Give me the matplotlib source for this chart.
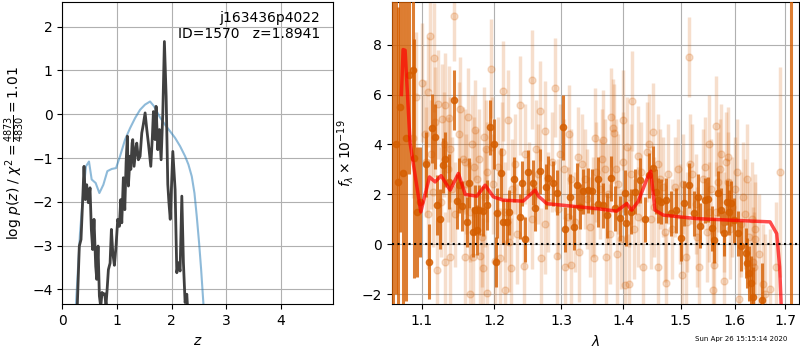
import matplotlib
matplotlib.use("Agg")
import matplotlib.pyplot as plt
import numpy as np

# p(z) curves
z_grid = [0.26, 0.275, 0.311, 0.342, 0.373, 0.397, 0.421, 0.446, 0.476, 0.507,
          0.531, 0.556, 0.58, 0.611, 0.63, 0.654, 0.678, 0.703, 0.727, 0.75,
          0.775, 0.80, 0.82, 0.843, 0.874, 0.898, 0.923, 0.953, 0.983, 1.014,
          1.044, 1.069, 1.088, 1.117, 1.143, 1.167, 1.19, 1.209, 1.24, 1.253,
          1.277, 1.289, 1.313, 1.35, 1.362, 1.392, 1.423, 1.454, 1.48, 1.515,
          1.546, 1.575, 1.619, 1.648, 1.667, 1.698, 1.716, 1.747, 1.777, 1.808,
          1.839, 1.868, 1.90, 1.915, 1.93, 1.95, 1.975, 2.022, 2.064, 2.095,
          2.125, 2.155, 2.187, 2.216, 2.247, 2.278, 2.30]
logpz = [-4.6, -4.34, -3.01, -2.86, -1.95, -1.19, -1.95, -1.61, -2.02, -1.68,
         -2.63, -3.09, -2.40, -3.47, -3.77, -3.01, -4.15, -4.4, -4.07, -4.12,
         -4.1, -4.35, -4.0, -3.55, -3.40, -2.63, -3.16, -3.45, -3.01, -2.40,
         -2.56, -1.95, -2.48, -1.45, -2.18, -1.11, -0.5, -1.64, -0.96, -1.26,
         -0.66, -0.58, -1.19, -0.73, -0.66, -1.04, -0.96, -0.43, -0.25, 0.03,
         -0.35, -0.66, -1.19, -0.51, 0.06, -0.58, 0.18, -0.81, -0.35, -1.04,
         0.03, 1.66, 0.41, -0.6, -1.6, -2.0, -2.4, -0.85, -1.72, -3.62,
         -3.39, -3.58, -1.87, -3.39, -4.30, -4.11, -4.6]

z_prior = [0.24, 0.25, 0.324, 0.372, 0.433, 0.488, 0.537, 0.61, 0.678, 0.751,
           0.824, 0.904, 0.983, 1.056, 1.148, 1.239, 1.331, 1.422, 1.514, 1.606,
           1.679, 1.777, 1.88, 1.972, 2.063, 2.155, 2.247, 2.308, 2.369, 2.418,
           2.46, 2.503, 2.54, 2.582, 2.6]
logp_prior = [-5.0, -4.33, -2.71, -1.95, -1.19, -1.08, -1.49, -1.57, -1.80, -1.61,
              -1.30, -1.25, -1.23, -0.96, -0.58, -0.32, -0.09, 0.10, 0.22, 0.29,
              0.18, -0.05, -0.24, -0.39, -0.54, -0.73, -0.96, -1.15, -1.42, -1.80,
              -2.33, -2.94, -3.54, -4.33, -5.0]

# spectrum: (wavelength um, flux, err)
binned = [
    (1.0625, 12.0, 40), (1.066, 4.0, 6.0), (1.069, 2.5, 7.0), (1.072, 5.5, 5.0),
    (1.0751, 2.84, 7.5), (1.0788, 4.24, 6.5), (1.083, 6.8, 4.0), (1.0878, 6.97, 3.5),
    (1.090, 3.44, 4.8), (1.094, 1.3, 2.6), (1.097, 1.7, 2.2), (1.1054, 3.2, 1.3),
    (1.109, -0.7, 1.5), (1.1135, 4.64, 1.4), (1.117, 4.3, 1.3), (1.120, 1.57, 1.2),
    (1.1238, 1.0, 1.2), (1.128, 3.17, 1.1), (1.1315, 3.4, 1.1), (1.136, 2.5, 1.1),
    (1.143, 5.77, 1.2), (1.147, 1.73, 1.1), (1.1495, 2.37, 1.1), (1.154, 1.53, 1.0),
    (1.1616, 0.9, 1.0), (1.1643, 2.44, 1.0), (1.169, 0.48, 1.0), (1.172, 1.37, 1.0),
    (1.175, 0.57, 1.0), (1.178, 1.37, 1.0), (1.184, 1.34, 1.0), (1.190, 1.57, 1.0),
    (1.1937, 4.68, 1.1), (1.1995, 4.0, 1.0), (1.202, -0.7, 1.0), (1.2035, 1.24, 1.0),
    (1.209, 2.84, 1.0), (1.2127, 0.9, 0.9), (1.218, 0.9, 0.9), (1.2216, 1.28, 0.9),
    (1.229, 2.61, 0.9), (1.238, 1.1, 0.9), (1.2405, 2.44, 0.9), (1.2446, 0.21, 0.9),
    (1.2497, 2.88, 0.9), (1.257, 2.46, 0.9), (1.260, 1.44, 0.9), (1.268, 2.93, 0.9),
    (1.276, 2.3, 0.9), (1.2795, 2.64, 0.9), (1.287, 2.44, 0.9), (1.293, 2.06, 0.9),
    (1.302, 4.68, 1.3), (1.3065, 0.6, 0.9), (1.3135, 1.9, 0.9), (1.320, 0.68, 0.9),
    (1.3255, 2.37, 0.9), (1.3298, 1.5, 0.9), (1.335, 2.13, 0.9), (1.3417, 2.17, 0.9),
    (1.348, 2.13, 0.9), (1.3578, 2.61, 0.9), (1.3588, 1.61, 0.9), (1.366, 1.57, 0.9),
    (1.373, 1.17, 0.9), (1.3805, 2.64, 0.9), (1.3867, 1.44, 0.9), (1.3945, 1.04, 0.9),
    (1.4025, 2.06, 0.9), (1.4057, 0.84, 0.9), (1.4128, 1.3, 0.9), (1.420, 2.1, 0.9),
    (1.428, 2.57, 0.9), (1.437, 1.0, 0.9), (1.4445, 2.77, 0.9), (1.4505, 3.04, 0.9),
    (1.4564, 2.1, 0.9), (1.460, 1.77, 0.9), (1.4651, 1.7, 0.9), (1.474, 1.77, 0.9),
    (1.483, 1.24, 0.9), (1.491, 1.37, 0.9), (1.500, 0.24, 0.9), (1.506, 1.64, 0.9),
    (1.5154, 2.37, 0.9), (1.5247, 1.24, 0.9), (1.532, 1.9, 0.9), (1.536, 0.74, 0.9),
    (1.5435, 1.77, 0.9), (1.5497, 1.81, 0.9), (1.5577, 0.64, 0.9), (1.562, 0.17, 0.9),
    (1.5694, 2.04, 0.9), (1.5744, 1.37, 0.9), (1.5794, 0.44, 0.9), (1.585, 1.68, 0.9),
    (1.590, 1.28, 0.9), (1.594, 1.64, 0.9), (1.599, 0.97, 0.9), (1.607, 0.44, 0.9),
    (1.6118, -0.06, 1.0), (1.6216, -0.36, 1.0), (1.6235, -0.76, 1.0), (1.628, -1.16, 1.1),
    (1.631, -1.56, 1.1), (1.635, -2.1, 1.2), (1.6527, -2.23, 1.5), (1.711, 12.0, 40),
]

beams = [
    (1.0887, 4.24, 2.4), (1.092, 5.9, 2.6), (1.1008, 6.48, 2.4), (1.1076, 6.1, 2.2),
    (1.1112, 8.34, 2.2), (1.1166, 7.48, 2.2), (1.127, 5.01, 2.2), (1.1315, 5.57, 2.1),
    (1.136, 5.04, 2.1), (1.1427, 9.13, 1.8), (1.1518, 5.41, 2.1), (1.163, 5.08, 2.0),
    (1.172, 4.57, 2.0), (1.1855, 4.3, 2.0), (1.1954, 7.04, 2.0), (1.1965, 3.9, 2.0),
    (1.2125, 6.13, 2.0), (1.2193, 4.97, 2.0), (1.2372, 5.56, 2.0), (1.2556, 6.6, 2.0),
    (1.268, 5.33, 2.0), (1.2745, 4.53, 2.0), (1.2906, 6.28, 2.0), (1.312, 4.4, 2.0),
    (1.353, 4.26, 2.0), (1.367, 4.17, 2.0), (1.380, 5.08, 2.0), (1.3835, 4.64, 2.0),
    (1.385, 4.44, 2.0), (1.399, 4.97, 2.0), (1.4065, 3.9, 2.0), (1.4155, 5.73, 2.0),
    (1.4244, 3.53, 2.0), (1.4445, 4.01, 2.0), (1.4505, 4.48, 2.0), (1.5154, 7.5, 1.6),
    (1.5525, 4.0, 2.0), (1.5657, 4.73, 2.0), (1.5744, 3.61, 2.0), (1.5867, 3.5, 2.0),
    (1.120, -1.03, 2.0), (1.1315, -0.7, 2.0), (1.1382, -0.52, 2.0), (1.1585, -0.52, 2.0),
    (1.1697, -0.49, 2.0), (1.1788, -0.47, 2.0), (1.184, -0.96, 2.0), (1.190, -1.96, 2.0),
    (1.166, -2.0, 2.0), (1.2013, -0.67, 2.0), (1.208, -0.56, 2.0), (1.2153, -1.83, 2.0),
    (1.2247, -0.96, 2.0), (1.243, -0.85, 2.0), (1.2685, -0.53, 2.0), (1.294, -0.47, 2.0),
    (1.3065, -0.89, 2.0), (1.3145, -0.83, 2.0), (1.328, -0.3, 2.0), (1.3515, -0.56, 2.0),
    (1.3715, -0.52, 2.0), (1.3895, -0.39, 2.0), (1.4025, -1.63, 2.0), (1.4095, -1.6, 2.0),
    (1.434, -0.9, 2.0), (1.459, -0.9, 2.0), (1.4745, -1.56, 2.0), (1.503, -1.23, 2.0),
    (1.509, -0.5, 2.0), (1.5338, -0.9, 2.0), (1.559, -1.83, 2.0), (1.562, -0.83, 2.0),
    (1.5806, -1.47, 2.0), (1.6085, -2.19, 2.1), (1.635, -0.7, 2.2), (1.637, -0.9, 2.2),
    (1.6395, 0.6, 2.2), (1.6555, -1.6, 2.4), (1.670, -1.8, 2.4), (1.682, -0.9, 2.6),
    (1.689, 2.9, 4.2),
    (1.104, 4.4, 2.2), (1.112, 3.6, 2.2), (1.122, 5.6, 2.2), (1.130, 4.0, 2.1),
    (1.138, 3.8, 2.1), (1.150, 4.4, 2.1), (1.158, 3.3, 2.1), (1.168, 4.0, 2.0),
    (1.178, 3.4, 2.0), (1.188, 3.8, 2.0),
    (1.105, 3.3, 2.2), (1.115, 2.1, 2.2), (1.125, 1.7, 2.2), (1.135, 3.0, 2.1),
    (1.145, 1.2, 2.1), (1.155, 3.4, 2.1), (1.165, 1.3, 2.0), (1.175, 2.6, 2.0),
    (1.182, 0.3, 2.0), (1.19, 2.9, 2.0), (1.205, 3.1, 2.0), (1.215, 1.3, 2.0),
    (1.225, 2.2, 2.0), (1.233, 0.4, 2.0), (1.245, 3.6, 2.0), (1.255, 1.0, 2.0),
    (1.265, 2.8, 2.0), (1.275, 0.8, 2.0), (1.285, 3.3, 2.0), (1.295, 1.4, 2.0),
    (1.305, 3.0, 2.0), (1.315, 2.6, 2.0), (1.322, 0.9, 2.0), (1.332, 3.2, 2.0),
    (1.34, 1.8, 2.0), (1.345, 0.7, 2.0), (1.355, 2.9, 2.0), (1.362, 2.2, 2.0),
    (1.37, 3.0, 2.0), (1.378, 0.4, 2.0), (1.392, 2.4, 2.0), (1.40, 3.3, 2.0),
    (1.41, 1.9, 2.0), (1.418, 0.6, 2.0), (1.43, 2.9, 2.0), (1.44, 3.7, 2.0),
    (1.452, 1.5, 2.0), (1.46, 3.2, 2.0), (1.468, 2.3, 2.0), (1.478, 2.8, 2.0),
    (1.485, 0.6, 2.0), (1.495, 3.0, 2.0), (1.505, 2.4, 2.0), (1.512, 0.9, 2.0),
    (1.52, 2.8, 2.0), (1.528, 1.6, 2.0), (1.54, 2.6, 2.0), (1.548, 0.5, 2.0),
    (1.555, 2.2, 2.0), (1.565, 1.3, 2.0), (1.572, 3.0, 2.0), (1.58, 0.9, 2.0),
    (1.588, 2.5, 2.0), (1.596, 1.5, 2.0), (1.604, 2.9, 2.1), (1.612, 0.8, 2.1),
    (1.62, 1.2, 2.2), (1.628, 0.3, 2.2), (1.64, 0.2, 2.3), (1.648, -0.4, 2.4),
    (1.66, -2.0, 2.4),
    (1.108, 1.2, 2.2), (1.118, 4.9, 2.2), (1.141, 2.2, 2.1), (1.160, 2.4, 2.0),
    (1.171, 3.1, 2.0), (1.186, 1.9, 2.0), (1.198, 2.4, 2.0), (1.211, 3.7, 2.0),
    (1.221, 0.1, 2.0), (1.230, 3.2, 2.0), (1.251, 2.1, 2.0), (1.262, 3.8, 2.0),
    (1.280, 1.7, 2.0), (1.298, 3.6, 2.0), (1.310, 1.1, 2.0), (1.326, 3.5, 2.0),
    (1.338, 2.6, 2.0), (1.350, 1.5, 2.0), (1.365, 3.4, 2.0), (1.375, 2.0, 2.0),
    (1.388, 3.0, 2.0), (1.396, 0.2, 2.0), (1.414, 2.8, 2.0), (1.426, 1.1, 2.0),
    (1.448, 1.0, 2.0), (1.463, 2.6, 2.0), (1.472, 0.5, 2.0), (1.490, 2.3, 2.0),
    (1.499, 1.2, 2.0), (1.516, 3.2, 2.0), (1.530, 0.3, 2.0), (1.545, 3.1, 2.0),
    (1.552, 1.3, 2.0), (1.568, 2.5, 2.0), (1.584, 3.3, 2.0), (1.592, 0.6, 2.0),
    (1.601, 2.2, 2.1), (1.616, 1.9, 2.2), (1.624, 2.6, 2.2), (1.633, 1.0, 2.3),
]

model_wave = [1.0735, 1.0756, 1.0782, 1.0847, 1.0987, 1.1101, 1.1177, 1.1257, 1.1380,
              1.1493, 1.1586, 1.1749, 1.1867, 1.1986, 1.2126, 1.2420, 1.2600, 1.2650,
              1.2777, 1.3565, 1.3893, 1.4061, 1.4145, 1.4258, 1.4402, 1.4471, 1.4546,
              1.4691, 1.5292, 1.5914, 1.6695, 1.6829, 1.6888, 1.6918, 1.694]
model_flux = [6.0, 7.8, 7.77, 4.05, 1.3, 2.7, 2.5, 2.75, 2.17,
              2.84, 2.0, 1.93, 2.37, 1.9, 1.77, 1.73, 2.17, 1.93,
              1.63, 1.43, 1.33, 1.63, 1.37, 1.73, 2.6, 2.93, 1.37,
              1.17, 1.03, 0.97, 0.9, 0.43, -0.9, -2.4, -3.0]

wave_ticks = [1.1, 1.2, 1.3, 1.4, 1.5, 1.6, 1.7]

g141 = (0.835, 0.369, 0.0)

fig = plt.figure(figsize=(8, 3.5), dpi=100)
ax1 = fig.add_axes([0.0779, 0.1306, 0.3388, 0.8634])
ax2 = fig.add_axes([0.4896, 0.1306, 0.5095, 0.8634])

# --- p(z)
ax1.plot(z_prior, logp_prior, color='tab:blue', alpha=0.5, lw=1.5)
ax1.plot(z_grid, logpz, color='0.25', lw=2)
ax1.set_xlim(0, 4.96)
ax1.set_ylim(-4.34, 2.56)
ax1.set_xticks([0, 1, 2, 3, 4])
ax1.grid()
ax1.set_xlabel(r'$z$')
ax1.set_ylabel(r'log $p(z)$' + ' / ' + r'$\chi^2=\frac{4873}{4830}=1.01$')
ax1.text(0.95, 0.97, 'j163436p4022\nID=1570   z=1.8941', ha='right', va='top',
         transform=ax1.transAxes, fontsize=10)

# --- spectrum
bw, bf, be = zip(*beams)
ax2.errorbar(bw, bf, yerr=be, fmt='o', color=g141, alpha=0.2, markersize=5,
             elinewidth=2.5, capsize=0, zorder=2)
dw, df, de = zip(*binned)
ax2.errorbar(dw, df, yerr=de, fmt='o', color=g141, alpha=0.8, markersize=4.5,
             elinewidth=2.2, capsize=0, zorder=3)
ax2.plot(model_wave, model_flux, color='r', alpha=0.7, lw=2.5, zorder=4)
ax2.axhline(0, color='k', linestyle=':', lw=1.5, zorder=5)

ax2.set_xscale('log')
ax2.set_xlim(1.061, 1.729)
ax2.set_ylim(-2.4, 9.7)
ax2.set_xticks(wave_ticks)
ax2.set_xticklabels(['{0:.1f}'.format(t) for t in wave_ticks])
ax2.xaxis.set_minor_locator(matplotlib.ticker.NullLocator())
ax2.set_yticks([-2, 0, 2, 4, 6, 8])
ax2.grid()
ax2.set_xlabel(r'$\lambda$')
ax2.set_ylabel(r'$f_\lambda\times10^{-19}$')

fig.text(0.984, 0.022, 'Sun Apr 26 15:15:14 2020', ha='right', va='bottom', fontsize=5)

fig.savefig('out.png', dpi=100)
